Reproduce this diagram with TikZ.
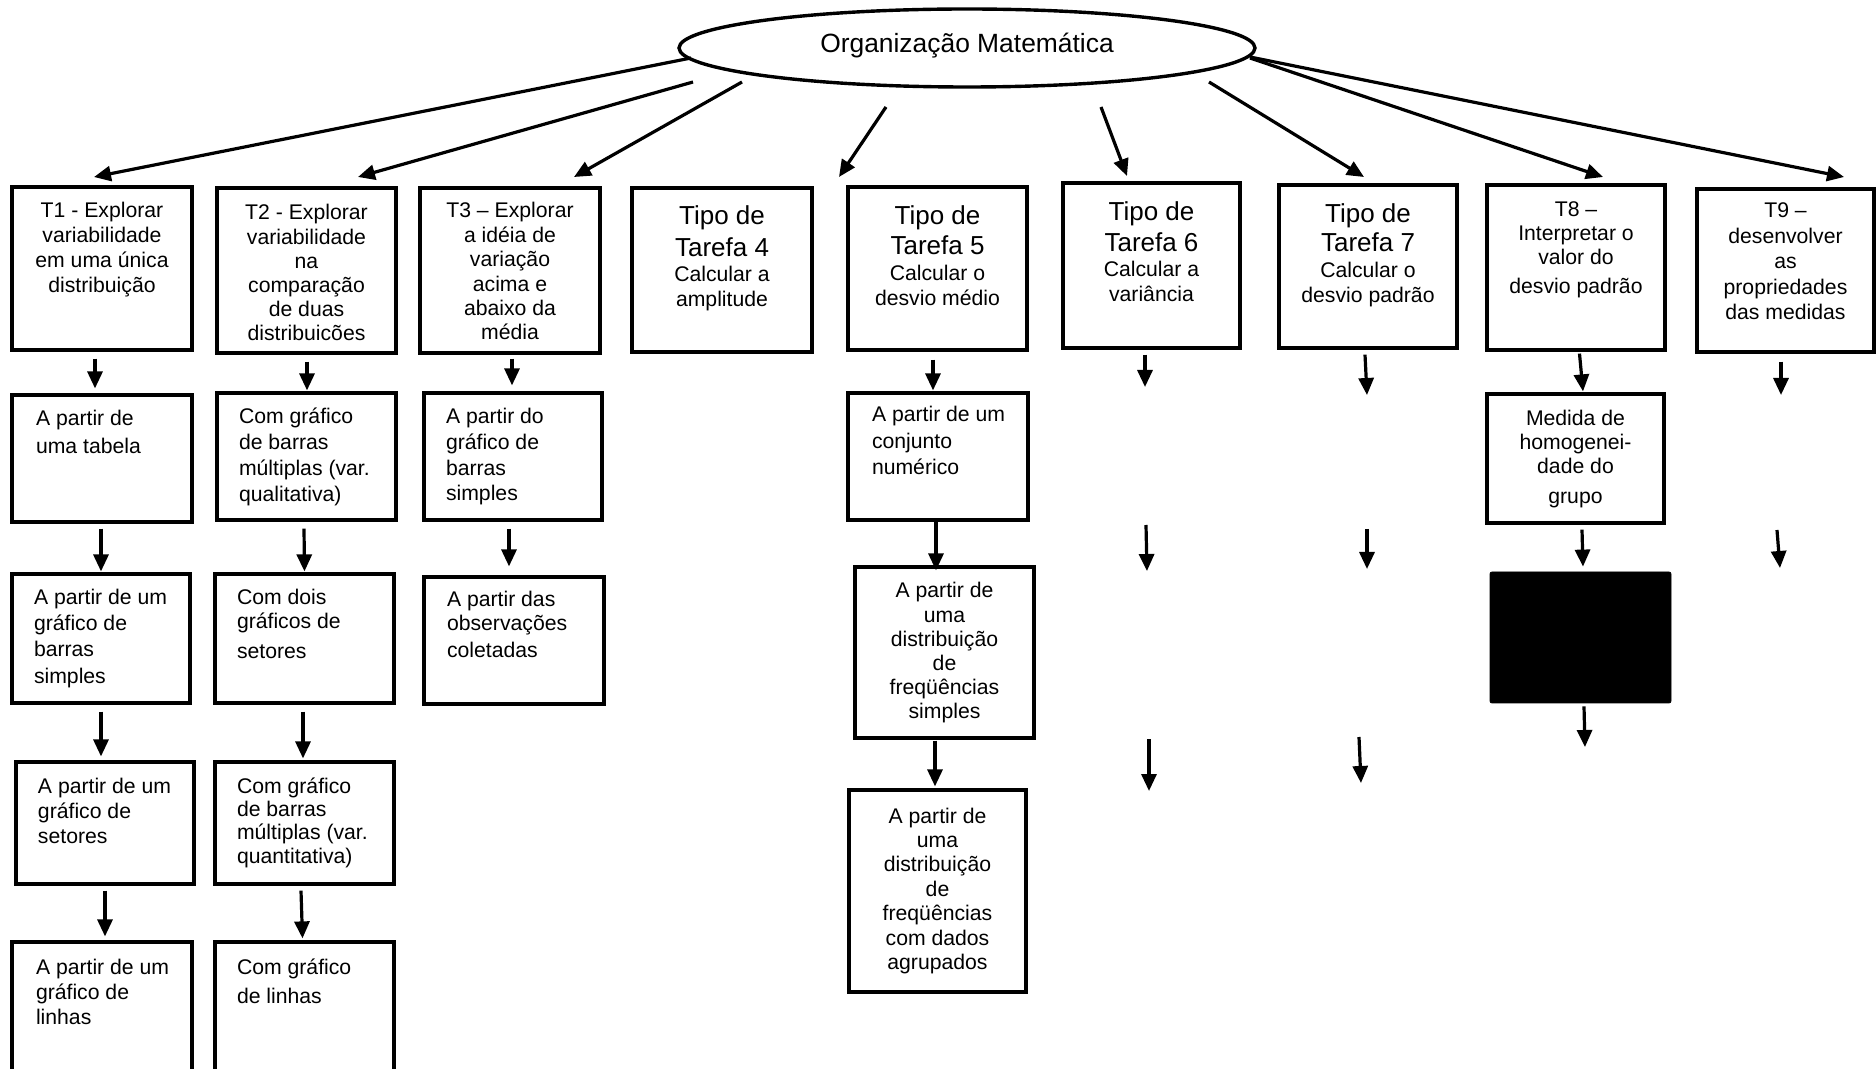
\documentclass[tikz,border=0pt]{standalone}
\usepackage{fontspec}
\setmainfont{Liberation Sans}
\usetikzlibrary{arrows.meta,shapes.geometric,calc}

% text sizes: small body text and the larger "Tipo de Tarefa" headings
\newcommand\smtxt[1][12.3]{\fontsize{10.6}{#1}\selectfont}
\newcommand\bigtxt[1][15.5]{\fontsize{13}{#1}\selectfont}
% first baseline of a box, measured from its top edge
\newcommand\fb[1]{\rule{0pt}{#1pt}}
% box from corner (x1,y1) to (x2,y2) with top-aligned contents
\newcommand\tbox[7][]{%
  \pgfmathsetmacro\bw{(#5-#3)*0.5}%
  \pgfmathsetmacro\bh{(#6-#4)*0.5}%
  \node[cell,#1] (#2) at ({(#3+#5)/2},{(#4+#6)/2})
    {\parbox[c][\bh pt][t]{\bw pt}{#7}};}

\tikzset{
  cell/.style={draw=black, line width=1.6pt, inner sep=0pt, rectangle},
  arr/.style={line width=1.6pt, -{Triangle[length=8.5pt,width=7.5pt]}},
}

\begin{document}
\begin{tikzpicture}[x=0.5pt,y=-0.5pt]
\useasboundingbox (0,0) rectangle (1876,1069);
\clip (0,0) rectangle (1876,1069);

% root
\node[ellipse, draw=black, line width=1.7pt, minimum width=288pt, minimum height=39pt,
      inner sep=0pt, text height=7pt, text depth=2.5pt] (om) at (967,48)
      {\fontsize{13.2}{15}\selectfont Organização Matemática};

% first row: task types
\tbox{T1}{12}{187}{192}{350}{\centering\smtxt[12.5]\fb{15.5}T1 - Explorar\\variabilidade\\em uma única\\distribuição\par}
\tbox{T2}{217}{188}{396}{353}{\centering\smtxt[12.1]\fb{16}T2 - Explorar\\variabilidade\\na\\comparação\\de duas\\distribuicões\par}
\tbox{T3}{420}{188}{600}{353}{\centering\smtxt[12.2]\fb{15}T3 – Explorar\\a idéia de\\variação\\acima e\\abaixo da\\média\par}
\tbox{T4}{632}{188}{812}{352}{\centering\bigtxt[16]\fb{18.5}Tipo de\\Tarefa 4\par\smtxt[12.3]Calcular a\\amplitude\par}
\tbox{T5}{848}{187}{1027}{350}{\centering\bigtxt[15]\fb{19}Tipo de\\Tarefa 5\par\smtxt[12.7]Calcular o\\desvio médio\par}
\tbox{T6}{1063}{183}{1240}{348}{\centering\bigtxt[15.5]\fb{19}Tipo de\\Tarefa 6\par\smtxt[12.3]Calcular a\\variância\par}
\tbox{T7}{1279}{185}{1457}{348}{\centering\bigtxt[14.5]\fb{19}Tipo de\\Tarefa 7\par\smtxt[12.7]Calcular o\\desvio padrão\par}
\tbox{T8}{1487}{185}{1665}{350}{\centering\smtxt[12]\fb{16}T8 –\\Interpretar o\\valor do\\[2.5pt]desvio padrão\par}
\tbox{T9}{1697}{189}{1874}{352}{\centering\smtxt[12.7]\fb{14.5}T9 –\\desenvolver\\as\\propriedades\\das medidas\par}

% second row
\tbox{T1b}{12}{395}{192}{522}{\raggedright\leftskip=12pt\smtxt[14]\fb{15.5}A partir de\\uma tabela\par}
\tbox{T2b}{217}{393}{396}{520}{\raggedright\leftskip=11pt\smtxt[12.9]\fb{15.5}Com gráfico\\de barras\\múltiplas (var.\\qualitativa)\par}
\tbox{T3b}{424}{393}{602}{520}{\raggedright\leftskip=11pt\smtxt[12.8]\fb{15.5}A partir do\\gráfico de\\barras\\simples\par}
\tbox{T5b}{848}{393}{1028}{520}{\raggedright\leftskip=12pt\smtxt[13.2]\fb{14.5}A partir de um\\conjunto\\numérico\par}
\tbox{T8b}{1487}{394}{1664}{523}{\centering\smtxt[12]\fb{16}Medida de\\homogenei-\\dade do\\[3pt]grupo\par}

% third row
\tbox{T1c}{12}{574}{190}{703}{\raggedright\leftskip=11pt\smtxt[12.8]\fb{15.5}A partir de um\\gráfico de\\barras\\[1pt]simples\par}
\tbox{T2c}{215}{574}{394}{703}{\raggedright\leftskip=11pt\smtxt[11.8]\fb{15.5}Com dois\\gráficos de\\[3pt]setores\par}
\tbox{T3c}{424}{577}{604}{704}{\raggedright\leftskip=11.5pt\smtxt[11.8]\fb{15}A partir das\\observações\\[1.5pt]coletadas\par}
\tbox{T5c}{855}{567}{1034}{738}{\centering\smtxt[12.1]\fb{15.5}A partir de\\uma\\distribuição\\de\\freqüências\\simples\par}
\node[fill=black, draw=black, rounded corners=1pt, inner sep=0pt,
      minimum width=90.5pt, minimum height=65.5pt] (T8c) at (1580.5,637.5) {};

% fourth row
\tbox{T1d}{16}{762}{194}{884}{\raggedright\leftskip=11pt\smtxt[12.5]\fb{15.5}A partir de um\\gráfico de\\setores\par}
\tbox{T2d}{215}{762}{394}{884}{\raggedright\leftskip=11pt\smtxt[11.7]\fb{15.5}Com gráfico\\de barras\\múltiplas (var.\\quantitativa)\par}
\tbox{T5d}{849}{790}{1026}{992}{\centering\smtxt[12.2]\fb{16.5}A partir de\\uma\\distribuição\\de\\freqüências\\com dados\\agrupados\par}

% fifth row (runs past the lower edge)
\tbox{T1e}{12}{942}{192}{1090}{\raggedright\leftskip=12pt\smtxt[12.5]\fb{16}A partir de um\\gráfico de\\linhas\par}
\tbox{T2e}{215}{942}{394}{1090}{\raggedright\leftskip=11pt\smtxt[14.5]\fb{16}Com gráfico\\de linhas\par}

% arrows leaving the root
\coordinate (o1) at (691,58);   \coordinate (t1) at (94,177);
\coordinate (o2) at (693,82);   \coordinate (t2) at (358,177);
\coordinate (o3) at (742,82);   \coordinate (t3) at (574,177);
\coordinate (o4) at (886,107);  \coordinate (t4) at (839,177);
\coordinate (o6) at (1101,107); \coordinate (t6) at (1127,176);
\coordinate (o7) at (1209,82);  \coordinate (t7) at (1364,177);
\coordinate (o8) at (1250,58);  \coordinate (t8) at (1603,177);
\coordinate (o9) at (1250,57);  \coordinate (t9) at (1844,177);
\foreach \i in {1,2,3,4,6,7,8,9} \draw[arr] (o\i) -- (t\i);

% column T1
\draw[arr] ($(T1.south)+(-7,7)$) -- ($(T1b.north)+(-7,-5)$);
\draw[arr] ($(T1b.south)+(-1,5)$) -- ($(T1c.north)+(0,-1)$);
\draw[arr] ($(T1c.south)+(0,7)$) -- ($(T1d.north)+(-4,-4)$);
\draw[arr] ($(T1d.south)+(0,5)$) -- ($(T1e.north)+(3,-4)$);

% column T2
\draw[arr] ($(T2.south)+(0.5,7)$) -- ($(T2b.north)+(0.5,-1)$);
\draw[arr] ($(T2b.south)+(-2.5,7)$) -- ($(T2c.north)+(0,-1)$);
\draw[arr] ($(T2c.south)+(-1.5,7)$) -- ($(T2d.north)+(-1.5,-2)$);
\draw[arr] ($(T2d.south)+(-3.5,5)$) -- ($(T2e.north)+(-2,-2)$);

% column T3
\draw[arr] ($(T3.south)+(2,4)$) -- ($(T3b.north)+(-1,-6)$);
\draw[arr] ($(T3b.south)+(-4,7)$) -- ($(T3c.north)+(-5,-9)$);

% column T5
\draw[arr] ($(T5.south)+(-4.5,8)$) -- ($(T5b.north)+(-5,-1)$);
\draw[arr] ($(T5b.south)+(-2,0)$) -- ($(T5c.north)+(-8.5,5)$);
\draw[arr] ($(T5c.south)+(-9.5,1)$) -- ($(T5d.north)+(-2.5,-2)$);

% column T6
\coordinate (d6) at (1145,387);
\draw[arr] ($(T6.south)+(-6.5,5)$) -- (d6);
\coordinate (e6a) at (1146,525); \coordinate (e6b) at (1147,571);
\coordinate (f6a) at (1149,739); \coordinate (f6b) at (1149,791);
\draw[arr] (e6a) -- (e6b);
\draw[arr] (f6a) -- (f6b);

% column T7
\coordinate (d7) at (1367,395);
\draw[arr] ($(T7.south)+(-3,5)$) -- (d7);
\coordinate (e7a) at (1367,529); \coordinate (e7b) at (1367,569);
\coordinate (f7a) at (1359,737); \coordinate (f7b) at (1361,783);
\draw[arr] (e7a) -- (e7b);
\draw[arr] (f7a) -- (f7b);

% column T8
\draw[arr] ($(T8.south)+(3.5,2)$) -- ($(T8b.north)+(7.5,-1)$);
\draw[arr] ($(T8b.south)+(6.5,5)$) -- ($(T8c.north)+(2.5,-5)$);
\coordinate (d8) at (1585,747);
\draw[arr] ($(T8c.south)+(3.5,3)$) -- (d8);

% column T9
\coordinate (d9) at (1781,395);
\draw[arr] ($(T9.south)+(-4.5,8)$) -- (d9);
\coordinate (e9a) at (1777,530); \coordinate (e9b) at (1780,568);
\draw[arr] (e9a) -- (e9b);
\end{tikzpicture}
\end{document}
